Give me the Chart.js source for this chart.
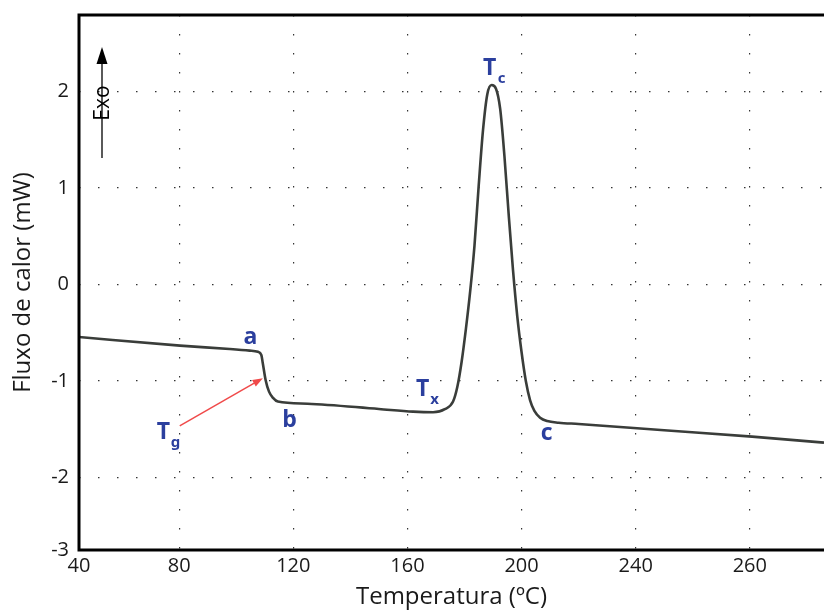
<!DOCTYPE html>
<html>
<head>
<meta charset="utf-8">
<script src="https://cdn.jsdelivr.net/npm/chart.js@4.4.1/dist/chart.umd.min.js"></script>
<style>
  html, body { margin: 0; padding: 0; background: #fff; }
  canvas { display: block; }
</style>
</head>
<body>
<canvas id="dscChart" width="824" height="615"></canvas>
<script>
// DSC trace: temperature (°C) and heat flow (mW)
const temps = [44.9, 80.3, 97.7, 104.7, 107.6, 108.8, 109.3, 110.3, 111.5, 112.9, 114.6,
  125, 150, 162, 169, 173.1, 176.0, 177.5, 179.0, 180.5, 182.0, 183.5, 185.0, 186.5,
  188.0, 189.5, 191.0, 192.5, 194.0, 195.5, 197.0, 198.5, 200.0, 201.5, 203.0, 204.5,
  206.5, 209, 213, 220, 250, 280.8, 306];
const heatFlow = [-0.545, -0.634, -0.668, -0.685, -0.698, -0.730, -0.813, -0.989, -1.110, -1.175, -1.213,
  -1.235, -1.290, -1.317, -1.323, -1.292, -1.213, -1.06, -0.80, -0.46, -0.07, 0.40, 1.03, 1.60,
  1.97, 2.065, 2.03, 1.82, 1.33, 0.72, 0.15, -0.33, -0.70, -1.00, -1.20, -1.31,
  -1.38, -1.415, -1.432, -1.445, -1.51, -1.576, -1.638];

// axis ticks as printed (the scan is cropped, so the end labels sit on the frame)
const xTickValues = [44.9, 80, 120, 160, 200, 240, 280];
const xTickLabels = ['40', '80', '120', '160', '200', '240', '260'];
const yTickValues = [-2.75, -2, -1, 0, 1, 2];
const yTickLabels = ['-3', '-2', '-1', '0', '1', '2'];

// letters marking the transitions
const marks = [
  { text: 'a', sub: '', x: 105.0, y: -0.549 },
  { text: 'b', sub: '', x: 118.7, y: -1.413 },
  { text: 'c', sub: '', x: 208.8, y: -1.548 },
  { text: 'T', sub: 'c', x: 188.8, y: 2.236 },
  { text: 'T', sub: 'x', x: 165.3, y: -1.092 },
  { text: 'T', sub: 'g', x: 74.5, y: -1.537 }
];
const tgArrow = { from: [80.2, -1.465], to: [109.35, -0.971] };

const blue = '#2b3f9e';

const decorations = {
  id: 'decorations',
  afterDatasetsDraw(chart) {
    const { ctx, chartArea: a, scales: { x, y } } = chart;
    ctx.save();

    // labels a, b, c, Tc, Tx, Tg
    ctx.fillStyle = blue;
    ctx.textAlign = 'center';
    ctx.textBaseline = 'middle';
    marks.forEach(m => {
      const px = x.getPixelForValue(m.x);
      const py = y.getPixelForValue(m.y);
      ctx.font = 'bold 23px "Open Sans"';
      ctx.fillText(m.text, px, py);
      if (m.sub) {
        ctx.font = 'bold 15px "Noto Sans"';
        ctx.fillText(m.sub, px + 12, py + 10);
      }
    });

    // red arrow pointing at Tg
    const x0 = x.getPixelForValue(tgArrow.from[0]), y0 = y.getPixelForValue(tgArrow.from[1]);
    const x1 = x.getPixelForValue(tgArrow.to[0]), y1 = y.getPixelForValue(tgArrow.to[1]);
    const ang = Math.atan2(y1 - y0, x1 - x0);
    ctx.strokeStyle = '#f04a4a';
    ctx.fillStyle = '#f04a4a';
    ctx.lineWidth = 1.5;
    ctx.beginPath();
    ctx.moveTo(x0, y0);
    ctx.lineTo(x1 - 8 * Math.cos(ang), y1 - 8 * Math.sin(ang));
    ctx.stroke();
    ctx.beginPath();
    ctx.moveTo(x1, y1);
    ctx.lineTo(x1 - 11 * Math.cos(ang - 0.35), y1 - 11 * Math.sin(ang - 0.35));
    ctx.lineTo(x1 - 11 * Math.cos(ang + 0.35), y1 - 11 * Math.sin(ang + 0.35));
    ctx.closePath();
    ctx.fill();

    // "Exo" arrow in the top-left corner
    const ex = a.left + 23;
    ctx.strokeStyle = '#000';
    ctx.fillStyle = '#000';
    ctx.lineWidth = 1.3;
    ctx.beginPath();
    ctx.moveTo(ex, a.top + 143);
    ctx.lineTo(ex, a.top + 45);
    ctx.stroke();
    ctx.beginPath();
    ctx.moveTo(ex, a.top + 32);
    ctx.lineTo(ex - 5.5, a.top + 49);
    ctx.lineTo(ex + 5.5, a.top + 49);
    ctx.closePath();
    ctx.fill();
    ctx.translate(ex, a.top + 88);
    ctx.rotate(-Math.PI / 2);
    ctx.font = '21px "Open Sans"';
    ctx.fillText('Exo', 0, 1);
    ctx.restore();
  },
  afterDraw(chart) {
    // heavy frame: left, top, bottom (right side is cut off in the scan)
    const { ctx, chartArea: a } = chart;
    ctx.save();
    ctx.strokeStyle = '#000';
    ctx.lineWidth = 3;
    ctx.beginPath();
    ctx.moveTo(chart.width, a.top);
    ctx.lineTo(a.left, a.top);
    ctx.lineTo(a.left, a.bottom);
    ctx.lineTo(chart.width, a.bottom);
    ctx.stroke();
    ctx.restore();
  }
};

const ctx = document.getElementById('dscChart').getContext('2d');
new Chart(ctx, {
  type: 'scatter',
  data: {
    datasets: [{
      data: temps.map((t, i) => ({ x: t, y: heatFlow[i] })),
      showLine: true,
      borderColor: '#3a3d3a',
      borderWidth: 2.6,
      pointRadius: 0,
      cubicInterpolationMode: 'monotone'
    }]
  },
  options: {
    responsive: false,
    animation: false,
    layout: { padding: { top: 15, right: 0, left: 0, bottom: 0 } },
    plugins: { legend: { display: false }, tooltip: { enabled: false } },
    scales: {
      x: {
        type: 'linear',
        min: 44.9,
        max: 306,
        afterBuildTicks: s => { s.ticks = xTickValues.map(v => ({ value: v })); },
        afterFit: s => { s.height = 65; s.paddingLeft = 0; s.paddingRight = 0; },
        ticks: {
          autoSkip: false, maxRotation: 0, padding: 4,
          color: '#1a1a1a', font: { family: 'Open Sans', size: 20 },
          callback: (v, i) => xTickLabels[i]
        },
        grid: { color: '#333', lineWidth: 1.2, drawTicks: false },
        border: { display: false, dash: [1.5, 17.5] },
        title: {
          display: true, text: 'Temperatura (ºC)', color: '#1a1a1a',
          font: { family: 'Open Sans', size: 24 }, padding: { top: 0, bottom: 3 }
        }
      },
      y: {
        min: -2.75,
        max: 2.79,
        afterBuildTicks: s => { s.ticks = yTickValues.map(v => ({ value: v })); },
        afterFit: s => { s.width = 79; s.paddingTop = 0; s.paddingBottom = 0; },
        ticks: {
          autoSkip: false, padding: 10,
          color: '#1a1a1a', font: { family: 'Open Sans', size: 20 },
          callback: (v, i) => yTickLabels[i]
        },
        grid: { color: '#333', lineWidth: 1.2, drawTicks: false },
        border: { display: false, dash: [1.5, 17.5] },
        title: {
          display: true, text: 'Fluxo de calor (mW)', color: '#1a1a1a',
          font: { family: 'Open Sans', size: 24 }, padding: { top: 9, bottom: 0 }
        }
      }
    }
  },
  plugins: [decorations]
});
</script>
</body>
</html>
